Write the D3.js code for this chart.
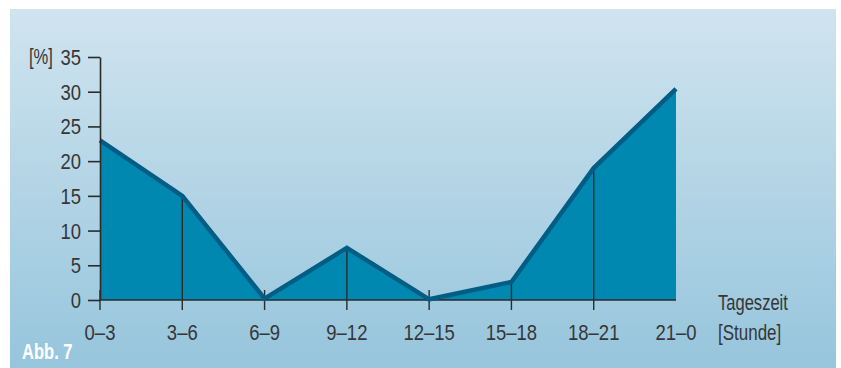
<!DOCTYPE html>
<html>
<head>
<meta charset="utf-8">
<script src="https://cdn.jsdelivr.net/npm/d3@7"></script>
<style>
  html, body { margin: 0; padding: 0; background: #fff; }
  svg { display: block; }
  text { font-family: "Liberation Sans", Arial, sans-serif; }
</style>
</head>
<body>
<svg id="chart" width="841" height="368"></svg>
<script>
// Anteil nach Tageszeit
const categories = ["0–3", "3–6", "6–9", "9–12", "12–15", "15–18", "18–21", "21–0"];
const values = [23, 15, 0.2, 7.5, 0.1, 2.6, 19, 30.4];
const yTicks = [0, 5, 10, 15, 20, 25, 30, 35];

const svg = d3.select("#chart");
const FS = 21.5;      // font size
const SX_NUM = 0.86;  // horizontal condensing for figures
const SX_TXT = 0.77;  // horizontal condensing for words

// Panel background with vertical gradient
const defs = svg.append("defs");
const grad = defs.append("linearGradient").attr("id", "bg").attr("x1", 0).attr("y1", 0).attr("x2", 0).attr("y2", 1);
grad.append("stop").attr("offset", "0%").attr("stop-color", "#d0e4ef");
grad.append("stop").attr("offset", "100%").attr("stop-color", "#96c5dc");
svg.append("rect").attr("x", 10).attr("y", 9).attr("width", 826).attr("height", 359).attr("fill", "url(#bg)");

const x = d3.scalePoint().domain(categories).range([100, 676]);
const y = d3.scaleLinear().domain([0, 35]).range([300, 57]);

const ink = "#2b2b2b";
const textCol = "#363636";

// condensed text helper
function label(g, tx, ty, str, sx, anchor = "start", fill = textCol, weight = "normal") {
  return g.append("text")
    .attr("transform", `translate(${tx},${ty}) scale(${sx},1)`)
    .attr("text-anchor", anchor).attr("fill", fill)
    .attr("font-size", FS).attr("font-weight", weight).text(str);
}

// x tick marks (behind the area)
svg.append("g").selectAll("line").data(categories.slice(0, -1)).join("line")
  .attr("x1", d => x(d)).attr("x2", d => x(d))
  .attr("y1", y(0) - 10).attr("y2", y(0) + 10)
  .attr("stroke", ink).attr("stroke-width", 1.4);

// Area
const pts = categories.map((c, i) => ({ c, v: values[i] }));
const area = d3.area().x(d => x(d.c)).y0(y(0)).y1(d => y(d.v));
svg.append("path").datum(pts).attr("d", area).attr("fill", "#0088b0");

// Vertical drop lines inside the area
svg.append("g").selectAll("line").data(pts.slice(1, -1)).join("line")
  .attr("x1", d => x(d.c)).attr("x2", d => x(d.c))
  .attr("y1", d => y(d.v)).attr("y2", y(0))
  .attr("stroke", ink).attr("stroke-width", 1.4);

// x axis baseline
svg.append("line").attr("x1", x(categories[0])).attr("x2", x(categories[categories.length - 1]))
  .attr("y1", y(0)).attr("y2", y(0)).attr("stroke", ink).attr("stroke-width", 1.6);

// Top outline
const line = d3.line().x(d => x(d.c)).y(d => y(d.v));
svg.append("path").datum(pts).attr("d", line).attr("fill", "none")
  .attr("stroke", "#005d86").attr("stroke-width", 4.5).attr("stroke-linejoin", "miter");

// y axis
const yAxis = d3.axisLeft(y).tickValues(yTicks).tickSize(12).tickPadding(7).tickSizeOuter(0);
const gy = svg.append("g").attr("transform", `translate(100,0)`).call(yAxis);
gy.select(".domain").attr("stroke", ink).attr("stroke-width", 1.6);
gy.selectAll(".tick line").attr("stroke", ink).attr("stroke-width", 1.6);
gy.selectAll(".tick text")
  .attr("x", null).attr("dy", null)
  .attr("transform", `translate(-19,7.5) scale(${SX_NUM},1)`)
  .attr("fill", textCol).attr("font-size", FS)
  .attr("font-family", "'Liberation Sans', Arial, sans-serif");

// x labels
const gx = svg.append("g");
categories.forEach(c => label(gx, x(c), 340, c, SX_NUM, "middle"));

// Axis titles
label(svg, 29, 64, "[%]", SX_TXT);
label(svg, 718, 310, "Tageszeit", SX_TXT);
label(svg, 718, 340, "[Stunde]", SX_TXT + 0.02);

// Figure label
label(svg, 22, 359, "Abb. 7", SX_TXT, "start", "#fff", "bold");
</script>
</body>
</html>
